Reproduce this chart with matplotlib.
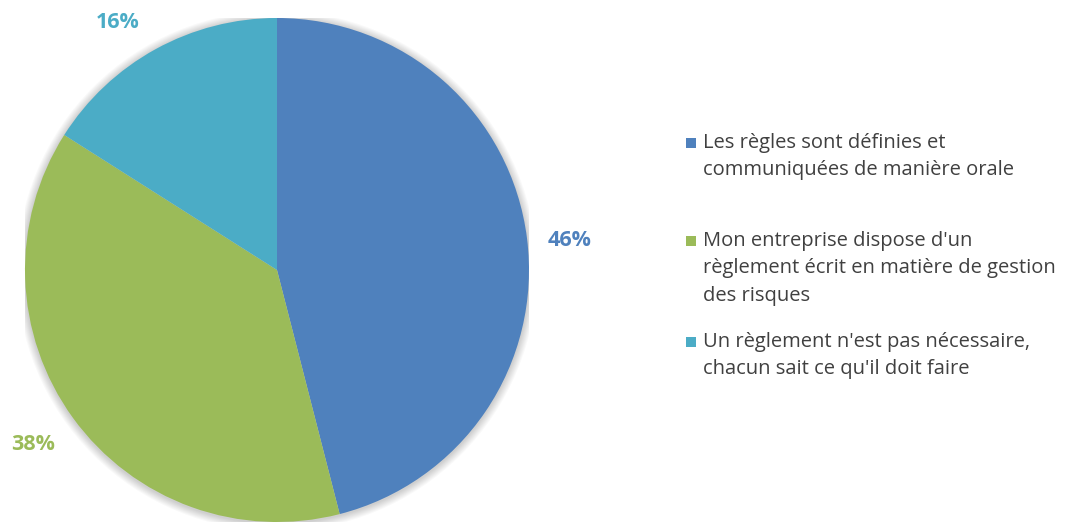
import matplotlib.pyplot as plt
from matplotlib.patches import Rectangle, Circle

labels = ["Les règles sont définies et\ncommuniquées de manière orale",
          "Mon entreprise dispose d'un\nrèglement écrit en matière de gestion\ndes risques",
          "Un règlement n'est pas nécessaire,\nchacun sait ce qu'il doit faire"]
values = [46, 38, 16]
colors = ['#4F81BD', '#9BBB59', '#4BACC6']

W, H = 1069, 522
fig = plt.figure(figsize=(W / 100, H / 100), dpi=100)

# pie centre and radius in pixels
cx, cy, r = 277, 270, 252
ax = fig.add_axes([(cx - r) / W, (H - cy - r) / H, 2 * r / W, 2 * r / H])

# soft shadow round the pie
for i in range(8):
    ax.add_patch(Circle((0.0, -0.004), 1 + 0.004 * (i + 1), color='black',
                        alpha=0.025, lw=0, zorder=0))

wedges, _ = ax.pie(values, colors=colors, startangle=90, counterclock=False,
                   radius=1, wedgeprops=dict(linewidth=0))
for w in wedges:
    w.set_zorder(2)
ax.set_xlim(-1, 1)
ax.set_ylim(-1, 1)
ax.set_aspect('equal')
ax.axis('off')

# percentage labels outside the pie
label_pos = [(570, 240), (33, 444), (118, 22)]
for (px, py), v, c in zip(label_pos, values, colors):
    fig.text(px / W, 1 - py / H, f"{v}%", color=c, fontsize=15.5,
             fontweight='bold', family='Open Sans', ha='center', va='center')

# legend drawn line by line
line_h = 27.3
starts = [143, 241, 342]
for y0, lab, c in zip(starts, labels, colors):
    fig.add_artist(Rectangle((686 / W, 1 - (y0 + 5) / H), 10 / W, 10 / H,
                             transform=fig.transFigure, color=c, lw=0))
    for k, line in enumerate(lab.split('\n')):
        fig.text(703 / W, 1 - (y0 + k * line_h) / H, line, color='#404040',
                 fontsize=14.5, family='Open Sans', ha='left', va='center')

fig.savefig('out.png', dpi=100)
